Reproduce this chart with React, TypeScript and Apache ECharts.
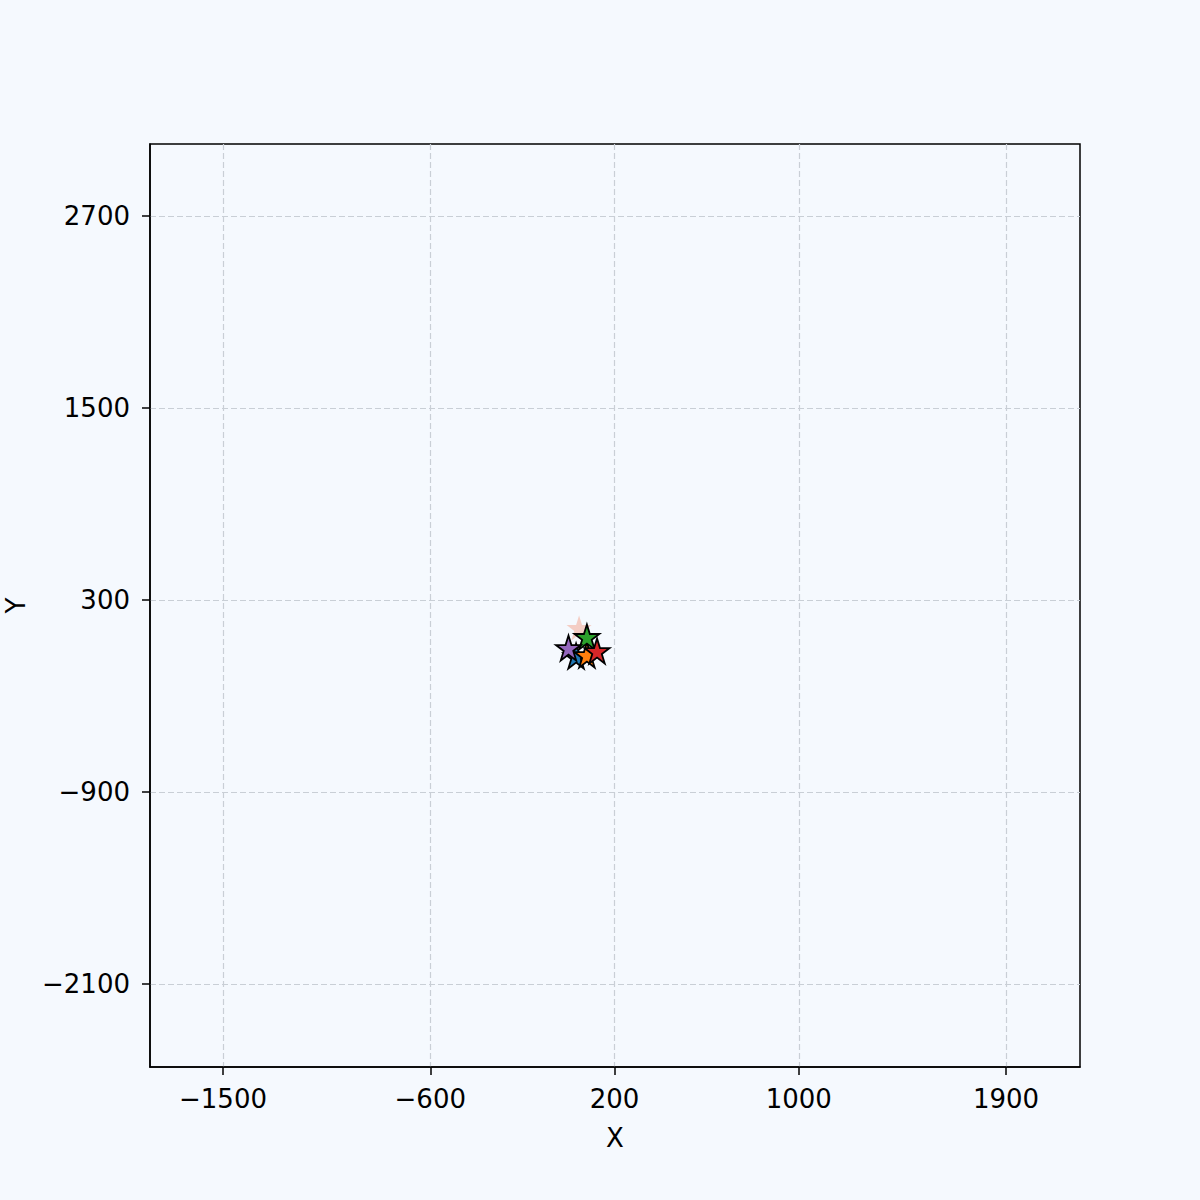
import React, { useEffect, useRef } from "react";
import * as echarts from "echarts";

const seriesNames = ["ghost", "blue", "orange", "green", "red", "purple"];
const seriesColors = ["#f2b5a5", "#1f77b4", "#ff7f0e", "#2ca02c", "#d62728", "#9467bd"];
const seriesOpacity = [0.65, 1, 1, 1, 1, 1];
const xValues = [46, 33, 80, 80, 124, 0];
const yValues = [125, -50, -44, 69, -19, 0];
const xTicks = [-1500, -600, 200, 1000, 1900];
const yTicks = [-2100, -900, 300, 1500, 2700];
const xMin = -1817;
const xMax = 2221;
const yMin = -2619;
const yMax = 3150;

const starPath =
  "path://M0,-100 L22.45,-30.9 L95.1,-30.9 L36.3,11.8 L58.8,80.9 L0,38.2 L-58.8,80.9 L-36.3,11.8 L-95.1,-30.9 L-22.45,-30.9 Z";

const fmt = (v: number) => String(v).replace("-", "\u2212");

export default function App() {
  const ref = useRef<HTMLDivElement>(null);
  useEffect(() => {
    if (!ref.current) return;
    const chart = echarts.init(ref.current, null, { renderer: "svg" });
    const font = "DejaVu Sans";
    const axisCommon = {
      axisLine: { show: true, onZero: false, lineStyle: { color: "#000", width: 1.5 } },
      axisTick: { show: true, length: 8, lineStyle: { color: "#000", width: 1.5 } },
      splitLine: { show: true, lineStyle: { color: "#c9cfd6", type: [6, 3], width: 1.2 } },
      nameTextStyle: { fontFamily: font, fontSize: 26, color: "#000" },
    };
    chart.setOption({
      animation: false,
      backgroundColor: "#f5f9fe",
      grid: {
        left: 150, right: 120, top: 144, bottom: 133,
        outerBoundsMode: "none", containLabel: false,
        show: true, borderColor: "#000", borderWidth: 1.5, backgroundColor: "transparent",
      },
      xAxis: {
        type: "value",
        min: xMin,
        max: xMax,
        name: "X",
        nameLocation: "middle",
        nameGap: 58,
        ...axisCommon,
        axisTick: { ...axisCommon.axisTick, customValues: xTicks },
        axisLabel: { customValues: xTicks, formatter: fmt, fontFamily: font, fontSize: 26, color: "#000", margin: 19 },
      },
      yAxis: {
        type: "value",
        min: yMin,
        max: yMax,
        name: "Y",
        nameLocation: "middle",
        nameGap: 121,
        nameRotate: 90,
        ...axisCommon,
        axisTick: { ...axisCommon.axisTick, customValues: yTicks },
        axisLabel: { customValues: yTicks, formatter: fmt, fontFamily: font, fontSize: 26, color: "#000", margin: 20 },
      },
      series: seriesNames.map((n, i) => ({
        name: n,
        type: "scatter",
        data: [[xValues[i], yValues[i]]],
        symbol: starPath,
        symbolSize: 25,
        itemStyle: {
          color: seriesColors[i],
          borderColor: i === 0 ? "transparent" : "#000",
          borderWidth: 1.8,
          opacity: seriesOpacity[i],
        },
        z: 3 + i,
      })),
    });
    return () => chart.dispose();
  }, []);
  return <div ref={ref} style={{ position: "fixed", left: 0, top: 0, width: 1200, height: 1200 }} />;
}
